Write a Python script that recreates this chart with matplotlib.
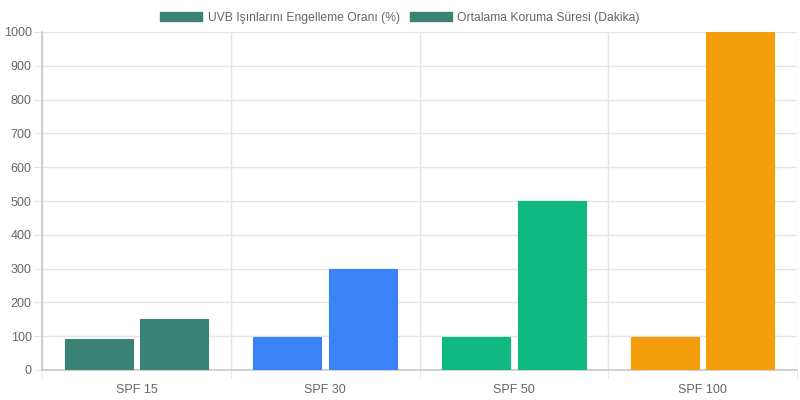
import numpy as np
import matplotlib
matplotlib.use("Agg")
import matplotlib.pyplot as plt
from matplotlib.patches import Patch

# ─── Données ───
categories = ['SPF 15', 'SPF 30', 'SPF 50', 'SPF 100']
uvb_engelleme = [93, 97, 98, 99]
koruma_suresi = [150, 300, 500, 1000]
bar_colors = ['#3a8275', '#3b82f6', '#10b981', '#f59e0b']
legend_labels = ['UVB Işınlarını Engelleme Oranı (%)', 'Ortalama Koruma Süresi (Dakika)']

plt.rcParams['font.family'] = ['Liberation Sans', 'DejaVu Sans']

fig = plt.figure(figsize=(8, 4), dpi=100)
ax = fig.add_axes([42 / 800, 30 / 400, 755 / 800, 338 / 400])

x = np.arange(len(categories))
w = 0.36
ax.bar(x - w / 2 - 0.02, uvb_engelleme, width=w, color=bar_colors, edgecolor=bar_colors, linewidth=0.8, zorder=3)
ax.bar(x + w / 2 + 0.02, koruma_suresi, width=w, color=bar_colors, edgecolor=bar_colors, linewidth=0.8, zorder=3)

ax.set_xlim(-0.5, len(categories) - 0.5)
ax.set_ylim(0, 1000)
ax.set_yticks(range(0, 1001, 100))
ax.set_xticks(x)
ax.set_xticklabels(categories)
ax.set_xticks(np.arange(-0.5, len(categories), 1), minor=True)

ax.grid(axis='y', color='#e5e5e5', linewidth=1, zorder=0)
ax.grid(axis='x', which='minor', color='#e5e5e5', linewidth=1, zorder=0)
ax.tick_params(axis='x', which='major', length=0, labelsize=9, labelcolor='#666666', pad=10)
ax.tick_params(axis='x', which='minor', length=6, color='#e5e5e5')
ax.tick_params(axis='y', length=5.5, color='#e5e5e5', labelsize=9, labelcolor='#666666', pad=2)

for side in ['top', 'right']:
    ax.spines[side].set_visible(False)
for side in ['left', 'bottom']:
    ax.spines[side].set_color('#c8c8c8')
    ax.spines[side].set_linewidth(1.2)

handles = [Patch(facecolor='#3a8275', edgecolor='#3a8275', label=l) for l in legend_labels]
fig.legend(handles=handles, loc='upper center', bbox_to_anchor=(0.5, 0.998), ncol=2,
           frameon=False, fontsize=8.7, handlelength=3.45, handleheight=0.86,
           handletextpad=0.45, columnspacing=0.86, labelcolor='#666666')

plt.savefig('out.png', dpi=100)
plt.close()
